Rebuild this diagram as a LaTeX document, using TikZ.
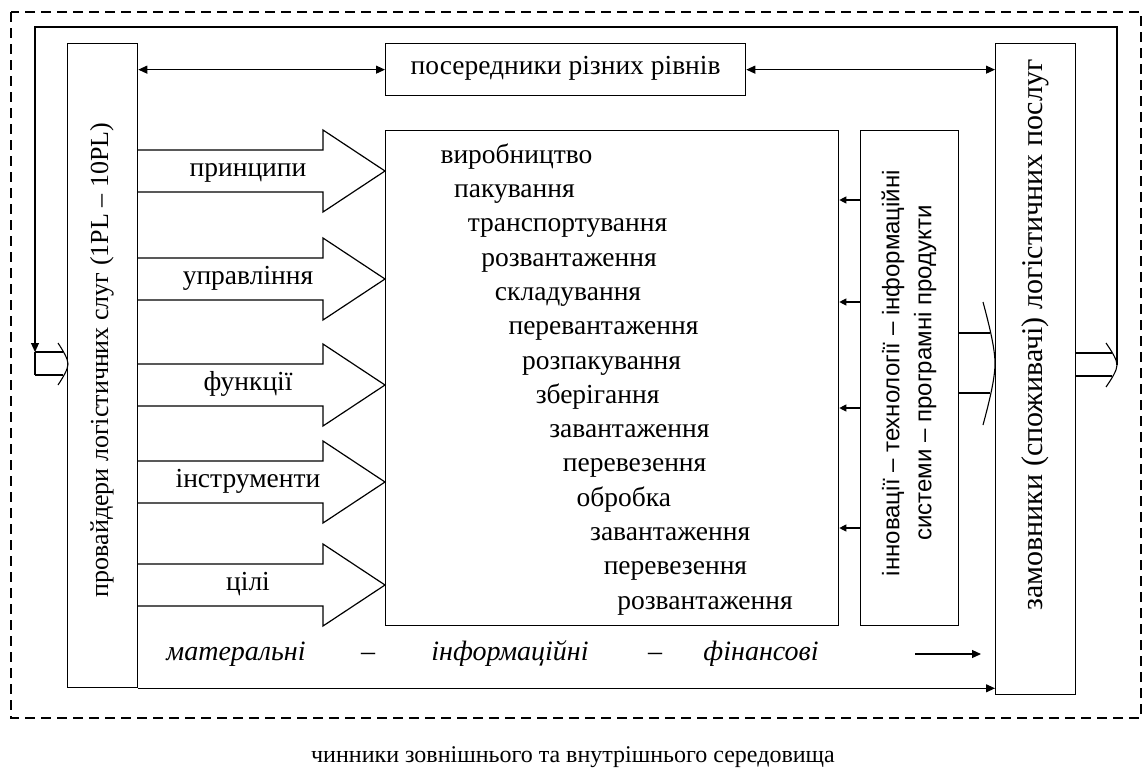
\documentclass[tikz,border=0pt]{standalone}
\usepackage{fontspec}
\setmainfont{Liberation Serif}
\setsansfont{Liberation Sans}
\usetikzlibrary{arrows.meta}
\newcommand\hhead[4]{%
  \draw (#1,#2) .. controls ({#1+0.55*(#4-#1)},{#2+0.2*(#3-#2)}) and (#4,{#2+0.38*(#3-#2)}) .. (#4,{0.5*(#2+#3)})
        .. controls (#4,{#2+0.62*(#3-#2)}) and ({#1+0.55*(#4-#1)},{#2+0.8*(#3-#2)}) .. (#1,#3);}
\begin{document}
\begin{tikzpicture}[x=1pt,y=-1pt,line width=1.1pt,
  box/.style={draw,line width=1.3pt,inner sep=0pt,anchor=north west},
  arr/.style={-{Triangle[length=9pt,width=8pt]}},
  sarr/.style={-{Triangle[length=7pt,width=7pt]}},
  darr/.style={{Triangle[length=9pt,width=8pt]}-{Triangle[length=9pt,width=8pt]}},
  lbl/.style={font=\fontsize{27.5}{30}\selectfont,inner sep=0pt,text height=1.24em,text depth=0.2em},
  itl/.style={font=\fontsize{28}{30}\selectfont\itshape,inner sep=0pt,text height=1.24em,text depth=0.2em},
  blk/.style={line width=1.2pt}]
\useasboundingbox (0,0) rectangle (1143,774);
% outer dashed frame
\draw[line width=1.2pt,dash pattern=on 10pt off 6pt] (11,12) rectangle (1141,718);
% boxes
\node[box,minimum width=70pt,minimum height=644pt] (prov) at (67,43) {};
\node[box,minimum width=80pt,minimum height=651pt] (cust) at (995,43) {};
\node[box,minimum width=360pt,minimum height=52pt] (mid) at (385,43) {};
\node[lbl] at (mid.center) {посередники різних рівнів};
\node[box,minimum width=453pt,minimum height=495pt] (proc) at (385,130) {};
\node[box,minimum width=98pt,minimum height=495pt] (inn) at (860,130) {};
% vertical texts
\node[font=\fontsize{26}{30}\selectfont,inner sep=0pt,rotate=90] at (102,360) {провайдери логістичних слуг (1PL – 10PL)};
\node[font=\fontsize{30}{34}\selectfont,inner sep=0pt,rotate=90] at (1035,335) {замовники (споживачі) логістичних послуг};
\node[font=\sffamily\fontsize{24}{32}\selectfont,inner sep=0pt,rotate=90,align=center] at (909,373)
  {інновації – технології – інформаційні\\системи – програмні продукти};
% top double arrows
\draw[darr] (prov.east |- mid.west) -- (mid.west);
\draw[darr] (mid.east) -- (cust.west |- mid.east);
% block arrows
\foreach \t/\l in {171/принципи,279/управління,385/функції,482/інструменти,585/цілі}{
  \draw[blk] (137,{\t-21}) -- (323,{\t-21}) -- (323,{\t-41}) -- (385,\t) -- (323,{\t+41}) -- (323,{\t+21}) -- (137,{\t+21});
  \node[lbl] at (248,\t) {\l};
}
% process words
\foreach \w [count=\i from 0] in {виробництво,пакування,транспортування,розвантаження,складування,перевантаження,розпакування,зберігання,завантаження,перевезення,обробка,завантаження,перевезення,розвантаження}{
  \node[lbl,anchor=west] at ({440+13.6*\i},{158+34.3*\i}) {\w};
}
% small arrows from innovations box
\foreach \y in {200,302,408,528}{
  \draw[sarr] (inn.west |- 0,\y) -- (proc.east |- 0,\y);
}
% hollow arrow inn -> cust
\draw (inn.east |- 0,333) -- (990,333);
\draw (inn.east |- 0,393) -- (990,393);
\hhead{983}{302}{425}{995}
% hollow arrow out of cust and loop
\draw (cust.east |- 0,353) -- (1112,353);
\draw (cust.east |- 0,376) -- (1112,376);
\hhead{1106}{343}{387}{1117}
\coordinate (loopA) at (1117,365);
\coordinate (loopB) at (1117,27);
\coordinate (loopC) at (35,27);
\coordinate (loopD) at (35,352);
\draw[arr] (loopA) -- (loopB) -- (loopC) -- (loopD);
\draw (loopD) -- (35,375);
\draw (loopD) -- (63,352);
\draw (35,375) -- (63,375);
\hhead{58}{343}{385}{68}
% bottom flows
\node[itl] at (236,655) {матеральні};
\node[itl] at (368,655) {–};
\node[itl] at (510,655) {інформаційні};
\node[itl] at (655,655) {–};
\node[itl] at (761,655) {фінансові};
\coordinate (fa) at (915,654);
\coordinate (fb) at (981,654);
\draw[arr] (fa) -- (fb);
\draw[arr] (prov.south east) -- (cust.west |- prov.south east);
% caption
\node[lbl,font=\fontsize{24}{28}\selectfont] at (573,757) {чинники зовнішнього та внутрішнього середовища};
\end{tikzpicture}
\end{document}
